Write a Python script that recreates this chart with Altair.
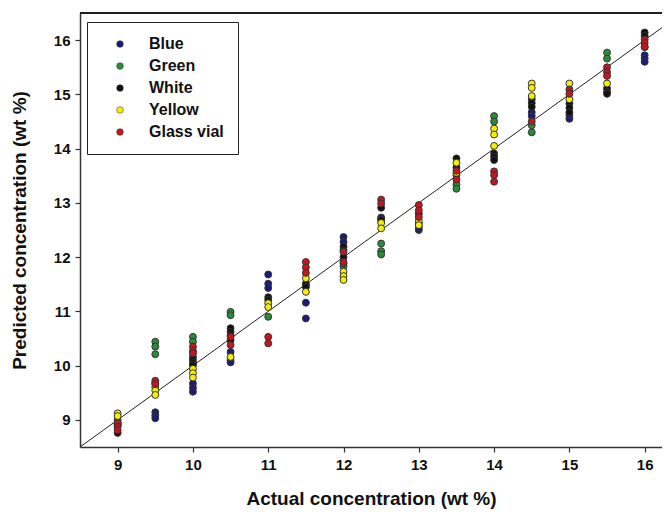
import altair as alt
import pandas as pd

# ---- data (actual conc., predicted conc.) ----
blue = [(9, 8.90), (9.5, 9.14), (9.5, 9.08), (9.5, 9.03),
        (10, 9.67), (10, 9.59), (10, 9.52),
        (10.5, 10.25), (10.5, 10.10), (10.5, 10.06),
        (11, 11.68), (11, 11.51), (11, 11.43),
        (11.5, 11.16), (11.5, 10.87),
        (12, 12.37), (12, 12.28),
        (12.5, 12.73), (12.5, 12.70),
        (13, 12.50), (13, 12.55),
        (14.5, 14.67), (14.5, 14.60),
        (15, 14.55), (15, 14.62),
        (16, 15.72), (16, 15.66), (16, 15.60)]

green = [(9, 9.00), (9, 8.95),
         (9.5, 10.44), (9.5, 10.35), (9.5, 10.21),
         (10, 10.53), (10, 10.44),
         (10.5, 10.99), (10.5, 10.93),
         (11, 10.90), (11.5, 11.48),
         (12, 11.83), (12, 11.88),
         (12.5, 12.25), (12.5, 12.11), (12.5, 12.05),
         (13.5, 13.34), (13.5, 13.26),
         (14, 14.60), (14, 14.50),
         (14.5, 14.43), (14.5, 14.30),
         (15.5, 15.77), (15.5, 15.66),
         (16, 15.87)]

white = [(9, 8.76), (9, 8.92), (9.5, 9.68),
         (10, 10.16), (10, 10.10), (10, 10.05), (10, 10.01),
         (10.5, 10.69), (10.5, 10.62), (10.5, 10.56), (10.5, 10.47),
         (11, 11.26), (11, 11.21),
         (11.5, 11.51), (11.5, 11.45),
         (12, 12.19), (12, 12.13), (12, 12.00),
         (12.5, 12.91), (12.5, 12.68),
         (13, 12.80), (13, 12.62),
         (13.5, 13.82), (13.5, 13.65), (13.5, 13.51),
         (14, 13.91), (14, 13.85), (14, 13.79),
         (14.5, 14.91), (14.5, 14.84), (14.5, 14.77),
         (15, 14.83), (15, 14.75), (15, 14.67),
         (15.5, 15.11), (15.5, 15.05), (15.5, 15.01),
         (16, 16.14), (16, 16.08)]

yellow = [(9, 9.12), (9, 9.07),
          (9.5, 9.60), (9.5, 9.54), (9.5, 9.46),
          (10, 9.94), (10, 9.86), (10, 9.78),
          (10.5, 10.16),
          (11, 11.15), (11, 11.08),
          (11.5, 11.61), (11.5, 11.36),
          (12, 11.73), (12, 11.65), (12, 11.58),
          (12.5, 12.63), (12.5, 12.53),
          (13, 12.67), (13, 12.59),
          (13.5, 13.74), (13.5, 13.55),
          (14, 14.37), (14, 14.26), (14, 14.05),
          (14.5, 15.20), (14.5, 15.12), (14.5, 14.97),
          (15, 15.20), (15, 14.91),
          (15.5, 15.20)]

glass_vial = [(9, 8.94), (9, 8.87), (9, 8.81),
              (9.5, 9.72), (9.5, 9.66),
              (10, 10.35), (10, 10.27), (10, 10.23),
              (10.5, 10.53), (10.5, 10.38),
              (11, 10.53), (11, 10.41),
              (11.5, 11.91), (11.5, 11.81), (11.5, 11.71),
              (12, 12.10), (12, 11.91),
              (12.5, 13.06), (12.5, 12.99),
              (13, 12.96), (13, 12.86), (13, 12.74),
              (13.5, 13.59), (13.5, 13.43),
              (14, 13.58), (14, 13.51), (14, 13.39),
              (14.5, 14.50),
              (15, 15.09), (15, 15.01),
              (15.5, 15.50), (15.5, 15.41), (15.5, 15.34),
              (16, 16.01), (16, 15.95), (16, 15.88)]

series_names = ["Blue", "Green", "White", "Yellow", "Glass vial"]
series_data = [blue, green, white, yellow, glass_vial]
series_colors = ["#1d1b7a", "#2a8c3a", "#111111", "#f4ef00", "#c4161e"]

x_ticks = [9, 10, 11, 12, 13, 14, 15, 16]
y_ticks = [9, 10, 11, 12, 13, 14, 15, 16]
identity_line = [8.5, 16.5]

rows = []
for order, (name, pts) in enumerate(zip(series_names, series_data)):
    for xv, yv in pts:
        rows.append({"actual": xv, "predicted": yv, "sample": name, "order": order})
df = pd.DataFrame(rows)
line_df = pd.DataFrame({"actual": identity_line, "predicted": identity_line})

FONT = "Liberation Sans"
W, H = 582, 434

xscale = alt.Scale(domain=[8.5, 16.23], nice=False, zero=False)
yscale = alt.Scale(domain=[8.5, 16.5], nice=False, zero=False)

xaxis = alt.Axis(title="Actual concentration (wt %)", values=x_ticks, grid=False,
                 tickSize=5, labelPadding=5, titlePadding=17, format="d")
yaxis = alt.Axis(title="Predicted concentration (wt %)", values=y_ticks, grid=False,
                 tickSize=5, labelPadding=5, titlePadding=24, format="d")

diag = alt.Chart(line_df).mark_line(color="#222222", strokeWidth=1, clip=True).encode(
    x=alt.X("actual:Q", scale=xscale, axis=xaxis),
    y=alt.Y("predicted:Q", scale=yscale, axis=yaxis),
)

points = alt.Chart(df).mark_point(
    shape="circle", filled=True, size=48, stroke="#333333", strokeWidth=1, opacity=1
).encode(
    x=alt.X("actual:Q", scale=xscale, axis=xaxis),
    y=alt.Y("predicted:Q", scale=yscale, axis=yaxis),
    color=alt.Color(
        "sample:N",
        scale=alt.Scale(domain=series_names, range=series_colors),
        legend=alt.Legend(
            title=None, orient="none", legendX=7, legendY=9,
            strokeColor="#222222", padding=14, symbolOffset=11, labelOffset=21,
            symbolSize=45, symbolType="circle", symbolStrokeColor="#333333",
            symbolStrokeWidth=0.5, rowPadding=6, labelFontSize=16,
            labelFont=FONT, labelFontWeight="bold", labelColor="#111111",
            labelExpr="datum.label + '\u00a0\u00a0\u00a0'",
        ),
    ),
    order=alt.Order("order:Q"),
)

top_border = alt.Chart(line_df).mark_rule(color="#111111", strokeWidth=1.5).encode(
    x=alt.value(0), x2=alt.value(W), y=alt.value(0)
)

chart = alt.layer(diag, points, top_border).properties(
    width=W, height=H,
    autosize=alt.AutoSizeParams(type="none"),
    padding={"left": 72, "top": 5, "right": 0, "bottom": 63},
).configure_view(stroke=None).configure_axis(
    domainColor="#333333", domainWidth=1.5, tickColor="#333333", tickWidth=1.2,
    labelFont=FONT, labelFontSize=15, labelFontWeight="bold", labelColor="#111111",
    titleFont=FONT, titleFontSize=19, titleFontWeight="bold", titleColor="#111111",
)

chart.save("out.html", embed_options={"renderer": "svg", "actions": False})
